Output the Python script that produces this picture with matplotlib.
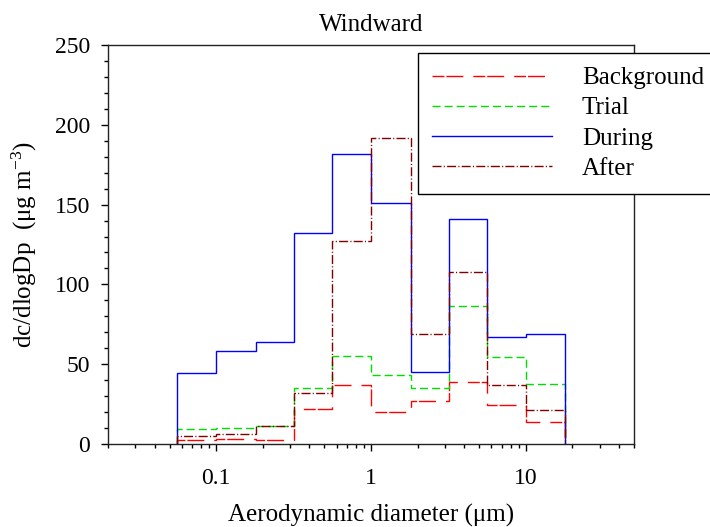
import matplotlib
matplotlib.use("Agg")
import matplotlib.pyplot as plt
from matplotlib.ticker import MultipleLocator, LogLocator, NullFormatter, FixedLocator, FixedFormatter

plt.rcParams['font.family'] = ['Liberation Serif', 'DejaVu Serif']
plt.rcParams['mathtext.fontset'] = 'custom'
plt.rcParams['mathtext.rm'] = 'Liberation Serif'
plt.rcParams['mathtext.it'] = 'Liberation Serif:italic'

# MOUDI stage cut points (um)
edges = [0.056, 0.1, 0.18, 0.32, 0.56, 1.0, 1.8, 3.2, 5.6, 10, 18]

background = [2.5, 3.1, 2.5, 22, 37, 20, 27, 39, 24.5, 13.5]
trial = [9.5, 10, 11.5, 35, 55, 43.5, 35, 86.5, 54.5, 37.5]
during = [44.5, 58, 64, 132, 182, 151, 45, 141, 67, 69]
after = [5.2, 6, 11.3, 32, 127, 192, 69, 107.5, 37, 21]

series_labels = ["Background", "Trial", "During", "After"]

fig = plt.figure(figsize=(7.1, 5.27), dpi=100)
ax = fig.add_axes([108/710, 83/527, 526/710, 399/527])

styles = [
    dict(color='#ff0000', linestyle=(0, (8.6, 1.4, 12.2, 7.2))),
    dict(color='#00e000', linestyle=(0, (5.8, 2.9))),
    dict(color='#0000ff', linestyle='-'),
    dict(color='#800000', linestyle=(0, (6.5, 1.6, 0.8, 1.6))),
]
for vals, lab, st in zip([background, trial, during, after], series_labels, styles):
    ax.stairs(vals, edges, baseline=0, fill=False, label=lab, linewidth=1.0, **st)

ax.set_xscale('log')
ax.set_xlim(0.02, 50)
ax.set_ylim(0, 250)

ax.yaxis.set_major_locator(MultipleLocator(50))
ax.yaxis.set_minor_locator(MultipleLocator(10))
ax.xaxis.set_major_locator(FixedLocator([0.1, 1, 10]))
ax.xaxis.set_major_formatter(FixedFormatter(['0.1', '1', '10']))
ax.xaxis.set_minor_locator(LogLocator(base=10, subs=range(2, 10), numticks=20))
ax.xaxis.set_minor_formatter(NullFormatter())

ax.tick_params(axis='both', which='major', direction='out', length=5, width=1,
               labelsize=17, top=False, right=False)
ax.tick_params(axis='both', which='minor', direction='out', length=3, width=1,
               top=False, right=False)
ax.tick_params(axis='y', which='major', pad=8)
ax.tick_params(axis='x', which='major', pad=12)
for sp in ax.spines.values():
    sp.set_linewidth(1.0)
    sp.set_color('#222222')

ax.set_xlabel('Aerodynamic diameter (\u03bcm)', fontsize=18, labelpad=11)
ax.set_ylabel('dc/dlogDp  (\u03bcg m$^{-3}$)', fontsize=18, labelpad=11)
ax.set_title('Windward', fontsize=18, pad=10)

leg = fig.legend(loc='upper left', bbox_to_anchor=(418/710, 1 - 53/527),
                 bbox_transform=fig.transFigure, fontsize=18, frameon=True,
                 fancybox=False, edgecolor='black', framealpha=1,
                 handlelength=4.8, handletextpad=1.2, borderpad=0.55,
                 labelspacing=0.31, borderaxespad=0)
leg.get_frame().set_linewidth(1.0)

fig.savefig('out.png', dpi=100)
